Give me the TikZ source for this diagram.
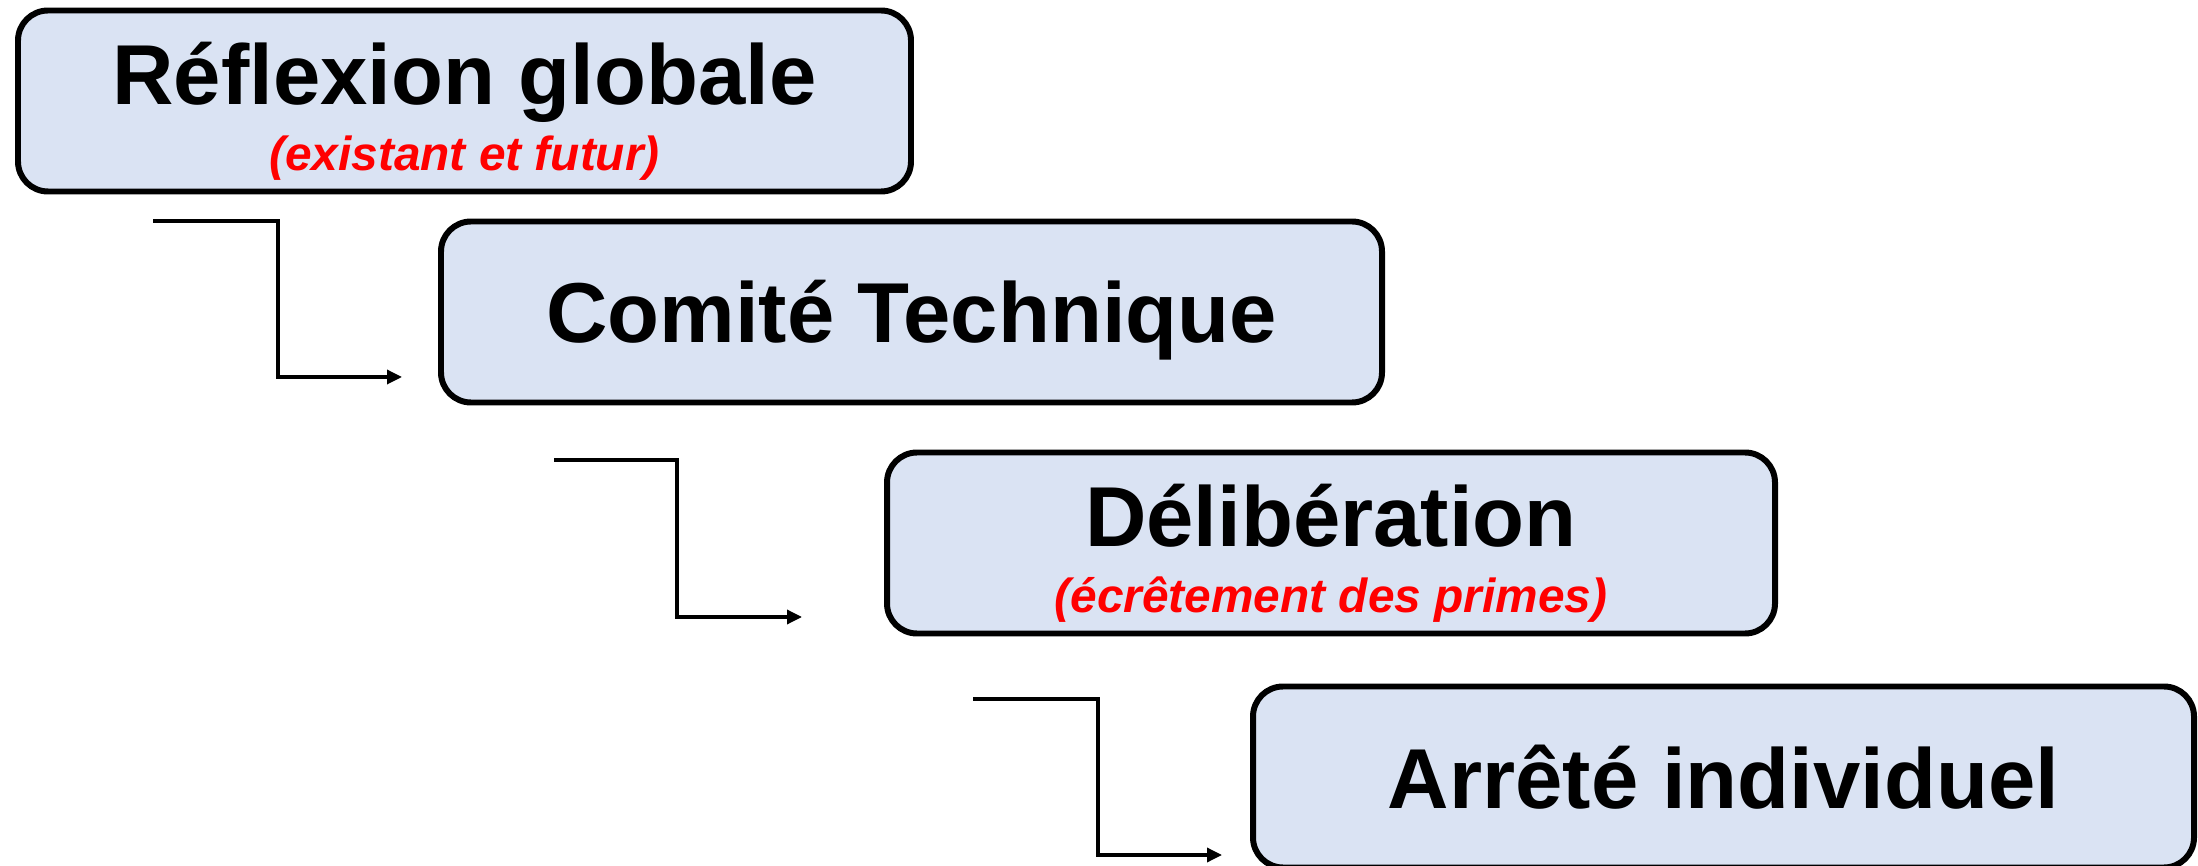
\documentclass[tikz,border=0pt]{standalone}
\usepackage{fontspec}
\setmainfont{Liberation Sans}
\usetikzlibrary{arrows.meta,calc}
\definecolor{boxblue}{HTML}{DAE3F3}
\tikzset{
  stage/.style={draw=black, line width=1.7pt, fill=boxblue, rounded corners=3mm, minimum height=18.1mm, inner sep=0pt},
  title/.style={anchor=base, inner sep=0pt, font=\bfseries\fontsize{24.2}{29}\selectfont},
  note/.style={anchor=base, inner sep=0pt, text=red, font=\bfseries\itshape\fontsize{13.6}{16}\selectfont},
  flow/.style={line width=0.95pt, -{Triangle[length=1.5mm,width=1.4mm]}},
}
\begin{document}
\begin{tikzpicture}[x=0.1mm, y=-0.1mm]
  \useasboundingbox (0,0) rectangle (2198,866);
  % the four stages
  \node[stage, minimum width=89.3mm] (refl) at (464.5,101) {};
  \node[stage, minimum width=94.1mm] (tech) at (911.5,312) {};
  \node[stage, minimum width=88.8mm] (delib) at (1331,543) {};
  \node[stage, minimum width=94.1mm] (arrete) at (1723.5,777) {};
  \node[title] (reflT) at ($(refl.center)+(0,4)$) {Réflexion globale};
  \node[note] (reflN) at ($(refl.center)+(0,70)$) {(existant et futur)};
  \node[title] (techT) at ($(tech.center)+(0,31)$) {Comité Technique};
  \node[title] (delibT) at ($(delib.center)+(0,4)$) {Délibération};
  \node[note] (delibN) at ($(delib.center)+(0,70)$) {(écrêtement des primes)};
  \node[title] (arreteT) at ($(arrete.center)+(0,31)$) {Arrêté individuel};
  % steps between them
  \coordinate (a1) at (153,221);  \coordinate (b1) at (278,221);  \coordinate (c1) at (402,377);
  \coordinate (a2) at (554,460);  \coordinate (b2) at (677,460);  \coordinate (c2) at (802,617);
  \coordinate (a3) at (973,699);  \coordinate (b3) at (1098,699); \coordinate (c3) at (1222,855);
  \draw[flow] (a1) -- (b1) |- (c1);
  \draw[flow] (a2) -- (b2) |- (c2);
  \draw[flow] (a3) -- (b3) |- (c3);
\end{tikzpicture}
\end{document}
